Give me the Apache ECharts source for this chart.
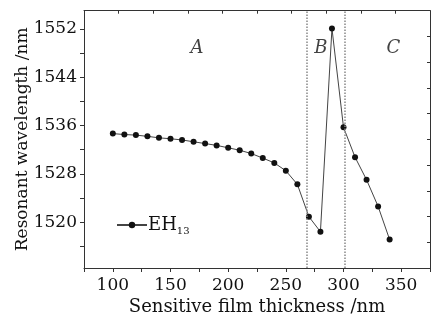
<!DOCTYPE html>
<html>
<head>
<meta charset="utf-8">
<script src="https://cdn.jsdelivr.net/npm/echarts@6/dist/echarts.min.js"></script>
<style>html,body{margin:0;padding:0;background:#fff;}#c{width:435px;height:321px;}</style>
</head>
<body>
<div id="c"></div>
<script>
var thickness = [100,110,120,130,140,150,160,170,180,190,200,210,220,230,240,250,260,270,280,290,300,310,320,330,340];
var wavelength = [1534.65,1534.5,1534.4,1534.2,1533.95,1533.8,1533.6,1533.3,1533.0,1532.7,1532.3,1531.9,1531.35,1530.6,1529.8,1528.5,1526.25,1520.9,1518.4,1552.05,1535.7,1530.75,1527.0,1522.6,1517.1];
var boundaries = [268, 301];
var regionNames = ['A','B','C'];
var regionX = [173, 280.4, 343.3];
var regionY = [1548.8, 1548.8, 1548.8];
var xLabelValues = [100,150,200,250,300,350];
var yLabelValues = [1520,1528,1536,1544,1552];
var yTickValues = [1516,1520,1524,1528,1532,1536,1540,1544,1548,1552];
var seriesName = 'EH13';

var FONT = 'DejaVu Serif';
var chart = echarts.init(document.getElementById('c'), null, {renderer:'canvas'});
var axisLine = {show:true, lineStyle:{color:'#333', width:1}};
chart.setOption({
  animation:false,
  backgroundColor:'#fff',
  grid:{left:84, right:5, top:10.7, bottom:48.5, containLabel:false},
  legend:{
    data:[seriesName], left:111, top:211, itemWidth:30, itemHeight:8, itemGap:0,
    formatter:function(){return '{m|EH}{s|13}';},
    textStyle:{rich:{
      m:{fontFamily:FONT, fontSize:18, color:'#111', padding:[0,0,0,-4]},
      s:{fontFamily:FONT, fontSize:10, color:'#111', verticalAlign:'bottom', padding:[12,0,0,0]}
    }}
  },
  xAxis:[{
    type:'value', min:75, max:375, interval:25, position:'bottom',
    axisLine:axisLine, splitLine:{show:false},
    axisTick:{show:true, inside:false, length:4, lineStyle:{color:'#333'}},
    axisLabel:{fontFamily:FONT, fontSize:17, color:'#111', margin:9,
      formatter:function(v){return xLabelValues.indexOf(v)>=0 ? String(v) : '';}},
    name:'Sensitive film thickness /nm', nameLocation:'middle', nameGap:30, nameMoveOverlap:false,
    nameTextStyle:{fontFamily:FONT, fontSize:18, color:'#111', verticalAlign:'top'}
  },{
    type:'value', min:0, max:10, interval:1, position:'top',
    axisLine:axisLine, splitLine:{show:false},
    axisTick:{show:true, inside:true, length:3, lineStyle:{color:'#333'}},
    axisLabel:{show:false}
  }],
  yAxis:[{
    type:'value', min:1512.4, max:1555, position:'left',
    axisLine:axisLine, splitLine:{show:false},
    axisTick:{show:true, inside:false, length:4, customValues:yTickValues, lineStyle:{color:'#333'}},
    axisLabel:{fontFamily:FONT, fontSize:17, color:'#111', margin:7, customValues:yLabelValues,
      formatter:function(v){return String(v);}},
    name:'Resonant wavelength /nm', nameLocation:'middle', nameGap:53, nameRotate:90, nameMoveOverlap:false,
    nameTextStyle:{fontFamily:FONT, fontSize:17, color:'#111'}
  },{
    type:'value', min:0, max:10, interval:1, position:'right',
    axisLine:axisLine, splitLine:{show:false},
    axisTick:{show:true, inside:true, length:3, lineStyle:{color:'#333'}},
    axisLabel:{show:false}
  }],
  series:[{
    name:seriesName, type:'line',
    data:thickness.map(function(x,i){return [x, wavelength[i]];}),
    xAxisIndex:0, yAxisIndex:0,
    symbol:'circle', symbolSize:6, showSymbol:true,
    lineStyle:{color:'#444', width:1}, itemStyle:{color:'#111'},
    markLine:{silent:true, symbol:'none', label:{show:false},
      lineStyle:{type:'dotted', color:'#888', width:1.5},
      data:boundaries.map(function(b){return {xAxis:b};})}
  },{
    name:'regions', type:'scatter', xAxisIndex:0, yAxisIndex:0,
    data:regionNames.map(function(n,i){return {name:n, value:[regionX[i], regionY[i]]};}),
    symbolSize:0, silent:true,
    label:{show:true, position:'inside', formatter:'{b}', fontFamily:FONT, fontStyle:'italic', fontSize:18, color:'#111'}
  }]
});
</script>
</body>
</html>
